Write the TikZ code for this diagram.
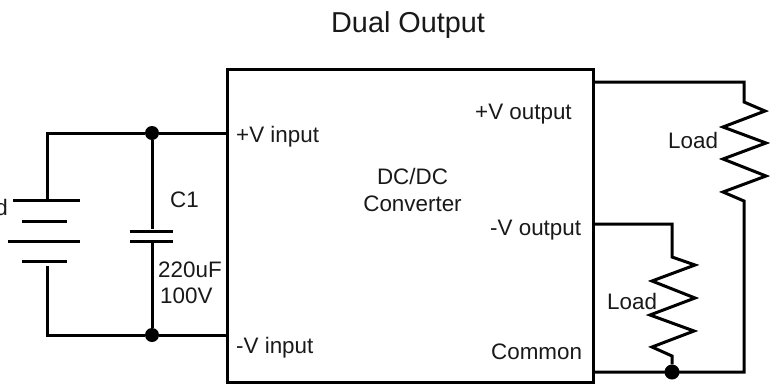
\documentclass[tikz,border=0pt]{standalone}
\usepackage{fontspec}
\setmainfont{Liberation Sans}
\begin{document}
\begin{tikzpicture}[x=1pt,y=-1pt,
  wire/.style={line width=3pt,line join=miter,line cap=butt},
  lbl/.style={anchor=base west,inner sep=0pt,font=\fontsize{22.4}{27}\selectfont,text=black!90},
  junction/.style={circle,fill=black,inner sep=0pt,minimum size=#1}]
\useasboundingbox (0,0) rectangle (770,383);
\node[draw,line width=3pt,minimum width=366pt,minimum height=313pt,inner sep=0pt,anchor=north west] (conv) at (226,68) {};
\coordinate (vin) at (226,133);
\coordinate (gin) at (226,335);
\coordinate (vop) at (592,82);
\coordinate (von) at (592,224);
\coordinate (com) at (592,372);
\node[junction=14pt] (jt) at (152,133) {};
\node[junction=14pt] (jb) at (152,335) {};
\node[junction=15pt] (jc) at (672,372) {};
\node[lbl,font=\fontsize{28.8}{30}\selectfont] (title) at (331,32) {Dual Output};
\node[lbl] (l1) at (236,142) {+V input};
\node[lbl] (l2) at (236,353) {-V input};
\node[lbl] (l3) at (475,119) {+V output};
\node[lbl] (l4) at (490,235) {-V output};
\node[lbl] (l5) at (491,359) {Common};
\node[lbl,align=center,anchor=north] (l6) at (412.5,168) {DC/DC\\Converter};
\node[lbl] (l7) at (170,207) {C1};
\node[lbl] (l8) at (158,277) {220uF};
\node[lbl] (l9) at (160,303) {100V};
\node[lbl] (l10) at (668,148) {Load};
\node[lbl] (l11) at (607,309) {Load};
\node[lbl,anchor=base east] (l12) at (8,215) {Load};
% battery
\draw[wire] (13,200) -- (80,200);
\draw[wire] (22,221) -- (67,221);
\draw[wire] (8,241) -- (80,241);
\draw[wire] (22,261) -- (67,261);
\draw[wire] (vin) -- (jt) -- (47,133) -- (47,200);
\draw[wire] (gin) -- (jb) -- (47,335) -- (47,266);
% capacitor
\draw[wire] (130,231) -- (173,231);
\draw[wire] (130,241) -- (173,241);
\draw[wire] (jt) -- (152,229);
\draw[wire] (jb) -- (152,243);
% loads
\draw[wire] (vop) -- (744,82) -- (744,102) -- (765,111) -- (723,127) -- (766,143) -- (723,159) -- (766,176) -- (723,192) -- (744,201) -- (744,372) -- (com);
\draw[wire] (von) -- (672,224) -- (672,257) -- (695,265) -- (652,281) -- (695,298) -- (650,315) -- (694,331) -- (652,347) -- (672,356) -- (jc);
\end{tikzpicture}
\end{document}
